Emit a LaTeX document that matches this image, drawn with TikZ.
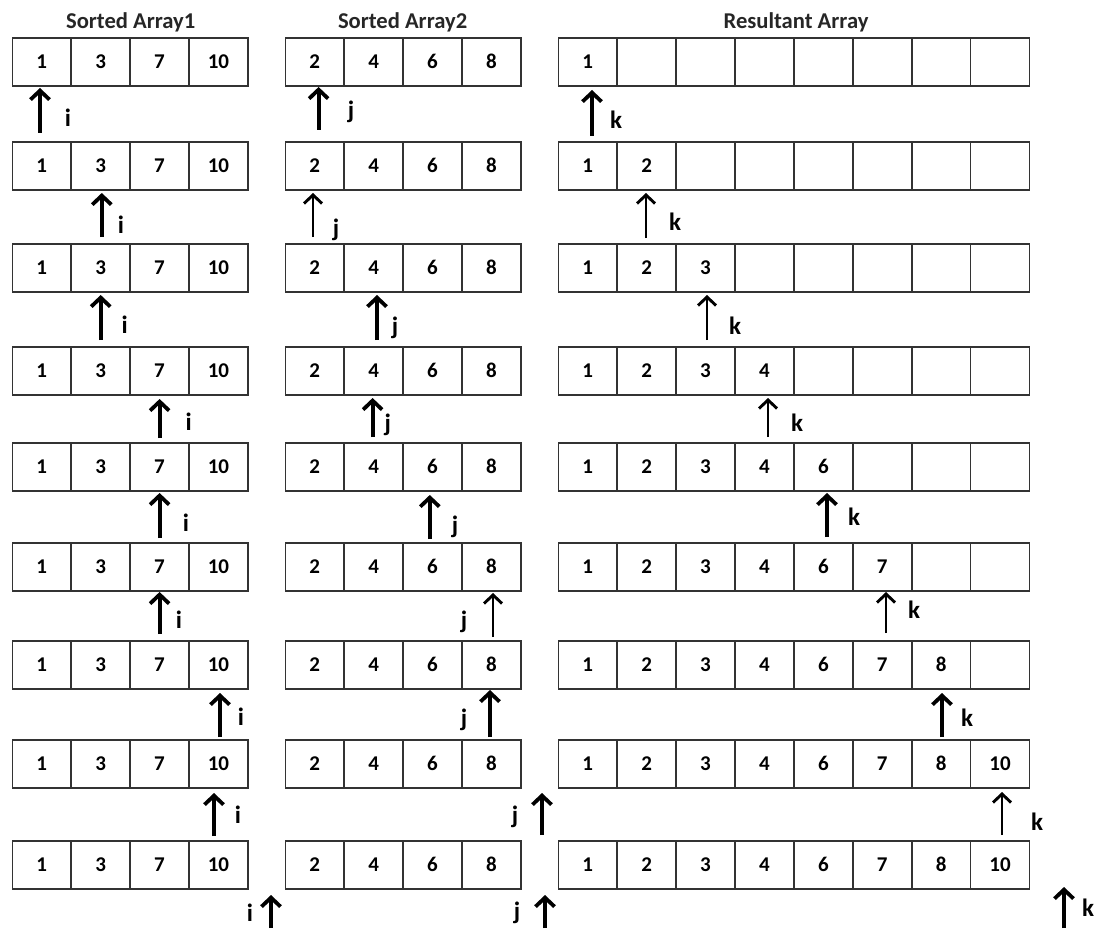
\documentclass[tikz,border=0pt]{standalone}
\usepackage{fontspec}
\setmainfont{Carlito}
\usetikzlibrary{arrows.meta}
\begin{document}
\begin{tikzpicture}[x=1pt,y=-1pt,
  cell/.style={draw=black!80, line width=1.6pt, minimum width=58.9pt, minimum height=48pt,
    inner sep=0pt, anchor=north west, font=\fontsize{21}{21}\selectfont\bfseries},
  hdr/.style={anchor=base, font=\fontsize{22.6}{22.6}\selectfont\bfseries, text=black!85},
  ptr/.style={line width=3.8pt, -{Straight Barb[length=9pt,width=19pt]}},
  thinptr/.style={line width=2.9pt, -{Straight Barb[length=8.5pt,width=18pt]}},
  lbl/.style={inner sep=0pt, font=\fontsize{25}{25}\selectfont\bfseries}]
\useasboundingbox (0,0) rectangle (1099,928);
% headers
\node[hdr] (h1) at (130.7,29) {Sorted Array1};
\node[hdr] (h2) at (402.6,29) {Sorted Array2};
\node[hdr] (h3) at (796,29) {Resultant Array};
% arrays
\foreach \ty [count=\ri] in {37,141,243,346,442,542,640,739,840}{
  \foreach \v [count=\c] in {1,3,7,10}
    \node[cell] (a\ri-\c) at ({11.5+(\c-1)*58.9},\ty) {\v};
  \foreach \v [count=\c] in {2,4,6,8}
    \node[cell] (b\ri-\c) at ({284.5+(\c-1)*58.9},\ty) {\v};
  \foreach \v [count=\c] in {1,2,3,4,6,7,8,10}
    \node[cell] (r\ri-\c) at ({557.5+(\c-1)*58.9},\ty) {\ifnum\c>\ri\relax\else\v\fi};
}
% pointers: name/x/top/bottom/labelx/labely/text/style
\foreach \n/\x/\yt/\yb/\lx/\ly/\t/\s in {
  i1/40/88/133/68/118/i/ptr, j1/318.6/87/130/351/112/j/ptr, k1/592/90/136/616/120/k/ptr,
  i2/101.8/193/237/121/225/i/ptr, j2/313/193/237/336/230/j/thinptr, k2/646/193/238/675/222/k/thinptr,
  i3/100.7/295/340/124.6/325/i/ptr, j3/377/295/340/395/328/j/ptr, k3/707/295/340/735/326/k/thinptr,
  i4/159.6/399/438/188.8/422/i/ptr, j4/372.6/398/437/387.7/425/j/ptr, k4/768/398/437/797/423/k/thinptr,
  i5/159.6/493/538/186/523/i/ptr, j5/429.8/495/539/455/527/j/ptr, k5/827/493/537/854/517/k/ptr,
  i6/159.6/592/634/179/620/i/ptr, j6/493/593/637/464/622/j/thinptr, k6/886/592/633/914/610/k/thinptr,
  i7/220/693/737/241/717/i/ptr, j7/490/690/737/464/720/j/ptr, k7/942/693/737/967/718/k/ptr,
  i8/214/793/836/238/815/i/ptr, j8/542/793/835/515/817/j/ptr, k8/1002/792/835/1037/822/k/thinptr,
  i9/271/895/928/250/913/i/ptr, j9/545/895/928/517/913/j/ptr, k9/1064/887/928/1088/908/k/ptr}{
  \coordinate (\n-head) at (\x,\yt);
  \coordinate (\n-tail) at (\x,\yb);
  \draw[\s] (\n-tail) -- (\n-head);
  \node[lbl] (\n-lbl) at (\lx,\ly) {\t};
}
\end{tikzpicture}
\end{document}
